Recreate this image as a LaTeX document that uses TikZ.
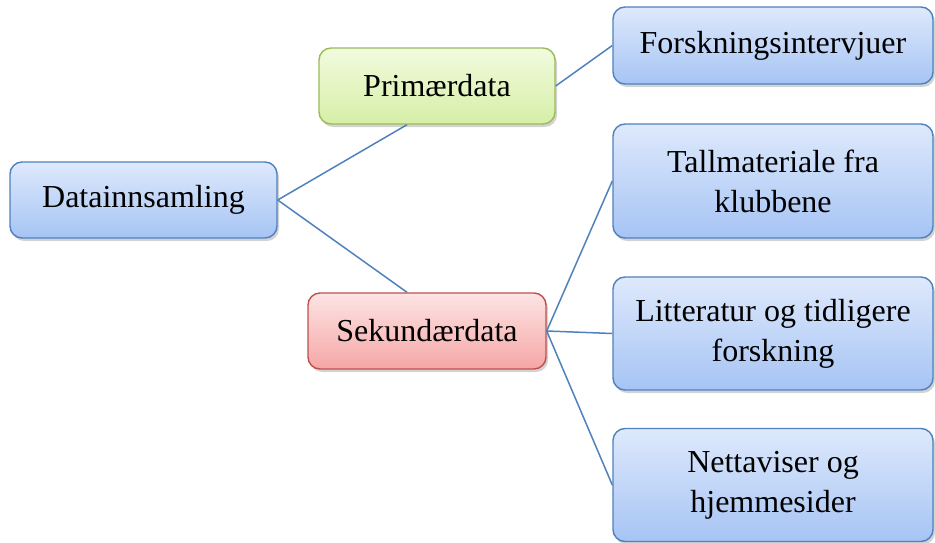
\documentclass[tikz,border=0pt]{standalone}
\usepackage{fontspec}
\setmainfont{Liberation Serif}
\usetikzlibrary{shadows}
\definecolor{cline}{HTML}{4F81BD}
\definecolor{cbluetop}{HTML}{DEE9FC}
\definecolor{cbluebot}{HTML}{A6C4F4}
\definecolor{cgreentop}{HTML}{F2FBDF}
\definecolor{cgreenbot}{HTML}{D6EFA6}
\definecolor{cgreenline}{HTML}{9BBB59}
\definecolor{credtop}{HTML}{FDE4E4}
\definecolor{credbot}{HTML}{F6A6A6}
\definecolor{credline}{HTML}{C0504D}
\tikzset{
  every picture/.style={font=\fontsize{32}{40}\selectfont},
  box/.style={draw=cline, top color=cbluetop, bottom color=cbluebot, rounded corners=12pt,
    align=center, line width=1.4pt, inner sep=0pt,
    drop shadow={shadow xshift=2pt, shadow yshift=-3pt, opacity=0.35}},
  greenbox/.style={box, draw=cgreenline, top color=cgreentop, bottom color=cgreenbot},
  redbox/.style={box, draw=credline, top color=credtop, bottom color=credbot},
  link/.style={draw=cline, line width=1.5pt},
}

\begin{document}
\begin{tikzpicture}[x=1pt, y=-1pt]
  \useasboundingbox (0,0) rectangle (935,543);
  % levels
  \node[box, minimum width=267pt, minimum height=76pt] (datainn) at (143.5,200) {Datainnsamling};
  \node[greenbox, minimum width=236pt, minimum height=76pt] (prim) at (437,86) {Primærdata};
  \node[redbox, minimum width=238pt, minimum height=76pt] (sek) at (427,331) {Sekundærdata};
  \node[box, minimum width=320pt, minimum height=77pt] (forsk) at (773,45.5) {Forskningsintervjuer};
  \node[box, minimum width=320pt, minimum height=114pt] (tall) at (773,181) {Tallmateriale fra\\klubbene};
  \node[box, minimum width=320pt, minimum height=113pt] (litt) at (773,333.5) {Litteratur og tidligere\\forskning};
  \node[box, minimum width=320pt, minimum height=113pt] (nett) at (773,485) {Nettaviser og\\hjemmesider};
  % connectors
  \draw[link] (datainn.east) -- ([xshift=-30pt]prim.south);
  \draw[link] (datainn.east) -- ([xshift=-20pt]sek.north);
  \draw[link] (prim.east) -- (forsk.west);
  \draw[link] (sek.east) -- (tall.west);
  \draw[link] (sek.east) -- (litt.west);
  \draw[link] (sek.east) -- (nett.west);
\end{tikzpicture}
\end{document}
